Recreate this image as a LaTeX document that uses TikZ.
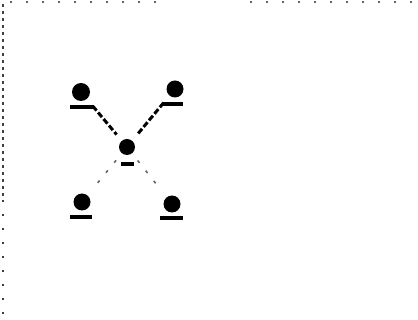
\documentclass[tikz,border=0pt]{standalone}
\begin{document}
\begin{tikzpicture}[x=1pt,y=-1pt,
  blob/.style={circle,fill=black,inner sep=0pt,minimum size=#1},
  blob/.default=17pt,
  tag/.style={line width=4pt,black},
  strong/.style={line width=3pt,dash pattern=on 6pt off 2.5pt,shorten <=9pt,shorten >=8pt},
  faint/.style={line width=1.6pt,black!60,dash pattern=on 3pt off 10pt,shorten <=9pt,shorten >=9pt},
  frame/.style={line width=2pt,black!75,dash pattern=on 3pt off 4pt},
  specks/.style={line width=1.8pt,black!60,dash pattern=on 2pt off 14pt}]
\useasboundingbox (0,0) rectangle (418,320);
% scanned frame remnants
\draw[frame] (3,4) -- (3,200);
\draw[frame,dash pattern=on 2pt off 12pt] (3,200) -- (3,316);
\draw[specks] (10,2) -- (165,2);
\draw[specks] (250,2) -- (415,2);
% nodes
\node[blob=18pt] (tl) at (81,92) {};
\node[blob=17pt] (tr) at (175,89) {};
\node[blob=16pt] (c)  at (127,147) {};
\node[blob=17pt] (bl) at (82,202) {};
\node[blob=17pt] (br) at (172,204) {};
% label marks under nodes
\coordinate (tlL) at (70,107); \coordinate (tlR) at (94,107);
\coordinate (trL) at (162,104); \coordinate (trR) at (183,104);
\coordinate (cL) at (121,164); \coordinate (cR) at (134,164);
\coordinate (blL) at (70,217); \coordinate (blR) at (92,217);
\coordinate (brL) at (160,218); \coordinate (brR) at (183,218);
\draw[tag] (tlL) -- (tlR);
\draw[tag] (trL) -- (trR);
\draw[tag] (cL) -- (cR);
\draw[tag] (blL) -- (blR);
\draw[tag] (brL) -- (brR);
% connectors
\draw[strong] (tl) -- (c);
\draw[strong] (tr) -- (c);
\draw[faint] (c) -- (bl);
\draw[faint] (c) -- (br);
\end{tikzpicture}
\end{document}
